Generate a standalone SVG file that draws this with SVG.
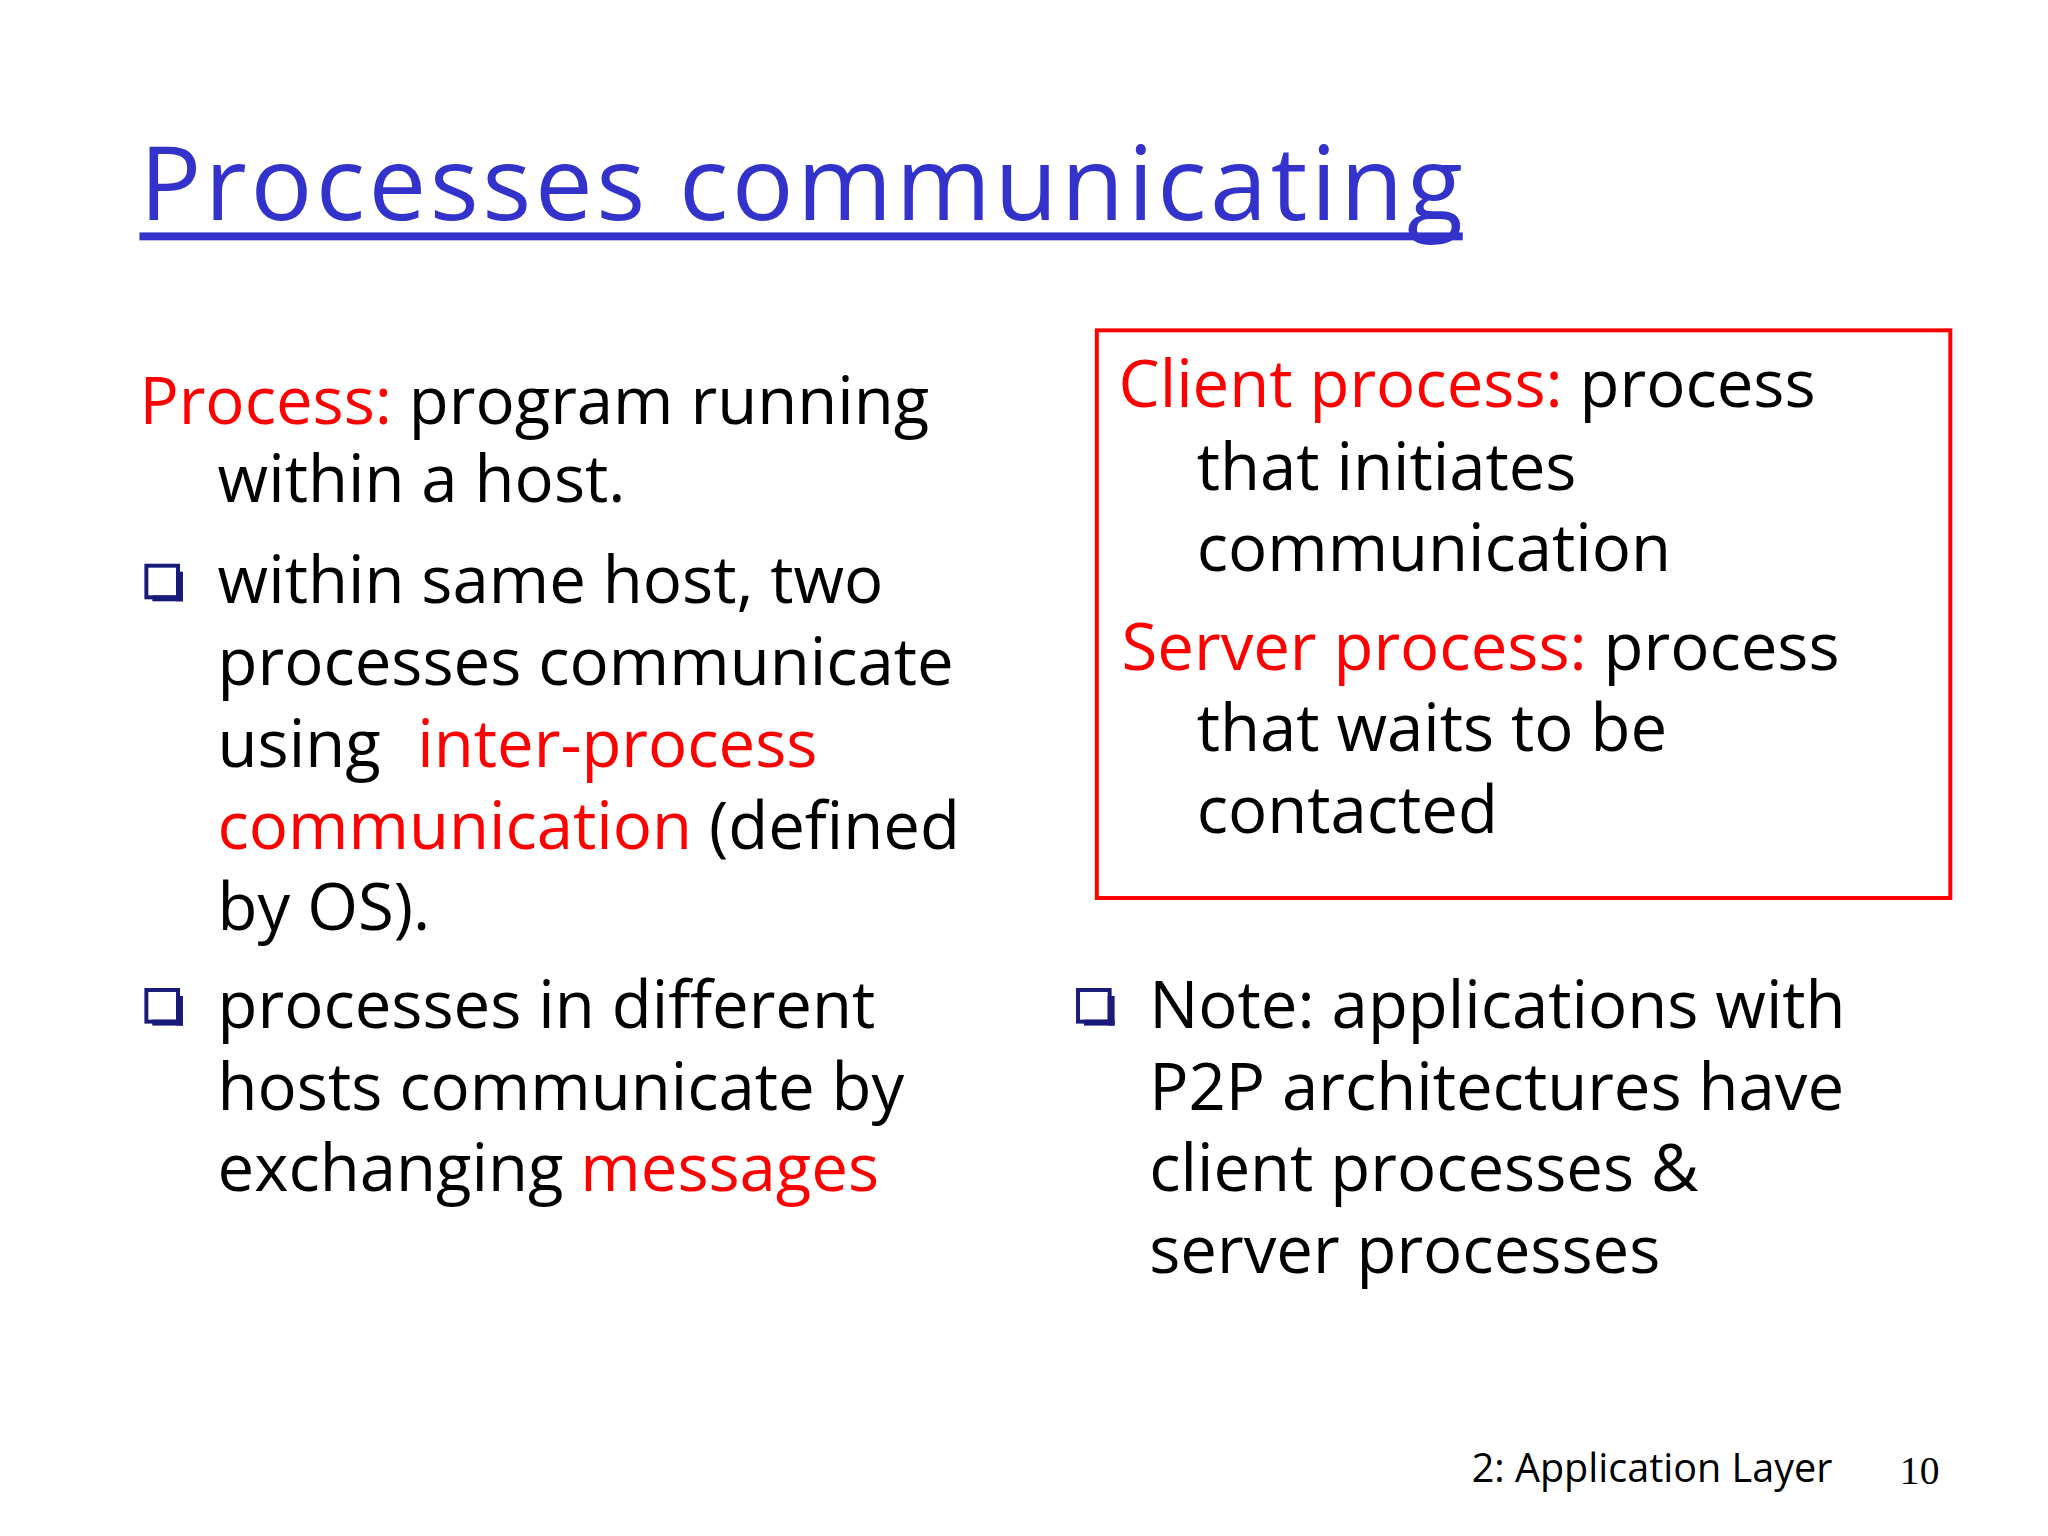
<svg xmlns="http://www.w3.org/2000/svg" width="2048" height="1536" viewBox="0 0 2048 1536">
<style>
text{font-family:"Open Sans","Noto Sans",sans-serif;fill:#000}
.b{font-size:66px}
.r{fill:#ff0000}
.blt{fill:none;stroke:#1a1a7a;stroke-width:4}
</style>
<rect width="2048" height="1536" fill="#fff"/>
<g transform="scale(0.989)">
<g id="title">
<text x="141" y="222" font-size="104" style="fill:#3333cc" textLength="1338">Processes communicating</text>
<rect x="141" y="235" width="1338" height="8" fill="#3333cc"/>
</g>
<g id="left">
<text class="b" x="141" y="429"><tspan class="r">Process:</tspan> program running</text>
<text class="b" x="220" y="508">within a host.</text>
<rect class="blt" x="148" y="572" width="32" height="32"/><rect x="178" y="578" width="7" height="30" fill="#1a1a7a"/><rect x="154" y="602" width="31" height="6" fill="#1a1a7a"/>
<text class="b" x="220" y="610">within same host, two</text>
<text class="b" x="220" y="693">processes communicate</text>
<text class="b" x="220" y="776">using  <tspan class="r" x="422">inter-process</tspan></text>
<text class="b" x="220" y="858"><tspan class="r">communication</tspan> (defined</text>
<text class="b" x="220" y="940">by OS).</text>
<rect class="blt" x="148" y="1001" width="32" height="32"/><rect x="178" y="1007" width="7" height="30" fill="#1a1a7a"/><rect x="154" y="1031" width="31" height="6" fill="#1a1a7a"/>
<text class="b" x="220" y="1039">processes in different</text>
<text class="b" x="220" y="1122">hosts communicate by</text>
<text class="b" x="220" y="1204">exchanging <tspan class="r">messages</tspan></text>
</g>
<g id="box">
<rect x="1109" y="334" width="863" height="574" fill="none" stroke="#ff0000" stroke-width="4"/>
<text class="b" x="1131" y="412"><tspan class="r">Client process:</tspan> process</text>
<text class="b" x="1210" y="495">that initiates</text>
<text class="b" x="1210" y="577">communication</text>
<text class="b" x="1134" y="677"><tspan class="r">Server process:</tspan> process</text>
<text class="b" x="1210" y="759">that waits to be</text>
<text class="b" x="1210" y="842">contacted</text>
</g>
<g id="note">
<rect class="blt" x="1090" y="1001" width="32" height="32"/><rect x="1120" y="1007" width="7" height="30" fill="#1a1a7a"/><rect x="1096" y="1031" width="31" height="6" fill="#1a1a7a"/>
<text class="b" x="1162" y="1039">Note: applications with</text>
<text class="b" x="1162" y="1122">P2P architectures have</text>
<text class="b" x="1162" y="1204">client processes &amp;</text>
<text class="b" x="1162" y="1287">server processes</text>
</g>
<g id="footer">
<text x="1488" y="1498" font-size="40">2: Application Layer</text>
<text x="1921" y="1500" font-size="40" style="font-family:'Liberation Serif',serif">10</text>
</g>
</g>
</svg>
